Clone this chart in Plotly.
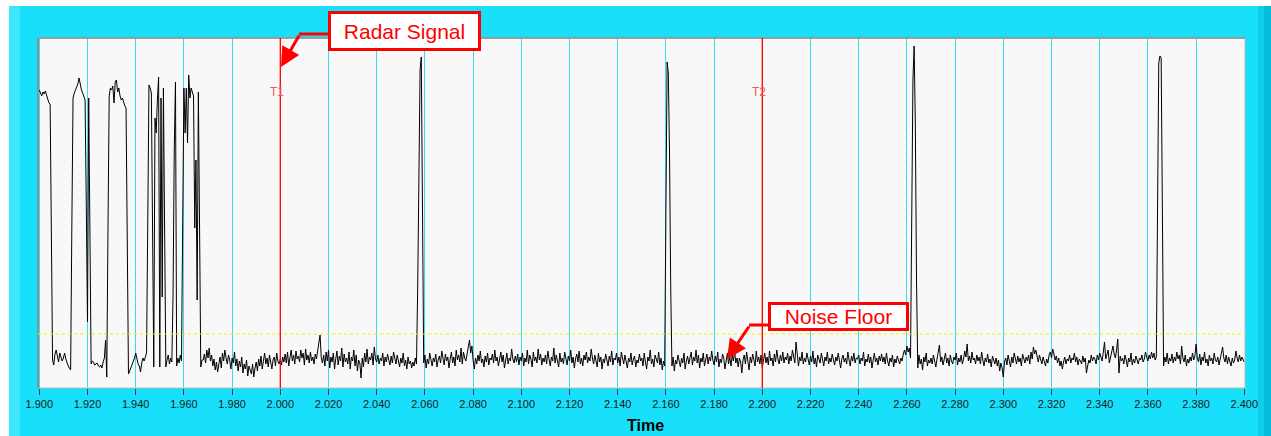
import numpy as np
import plotly.graph_objects as go

# ---------------- data (amplitude in arbitrary units, 0.5 ms sampling) ----------------
SAMPLE_DT = 0.0005

seg_burst_start = 1.900
seg_burst = [
    298, 295, 292, 296, 294, 297, 293, 290, 285, 284, 156,
    28, 23, 34, 38, 30, 26, 35, 31, 27, 30, 35, 29, 25, 22, 20, 18,
    161,
    290, 295, 298, 300, 304, 310, 302, 298, 295, 292, 288,
    181, 66, 290, 123,
    24, 27, 26, 23, 24, 25, 22, 21, 23, 20, 26, 30, 48, 11,
    160,
    292, 300, 298, 302, 285, 306, 308, 296, 300, 292, 288, 290, 285, 282, 280,
    146,
    14, 17, 20, 23, 26, 30, 35, 28, 24, 22, 16, 25, 30, 27, 32, 35,
    165,
    303, 300, 295, 158, 21, 270, 255, 288, 311, 21, 290, 91, 300, 158, 21,
    28, 33, 24, 30, 26, 93, 238, 306, 22, 30, 25, 33, 27, 170, 300,
    255, 300, 245, 313, 290, 300, 296, 292, 160, 228, 88, 296, 160, 21, 28,
]

seg_a_start = 1.968
seg_a = [
    28, 34, 25, 38, 30, 40, 27, 33, 22, 29, 18, 26, 16, 24, 31, 20, 35, 27, 38, 30,
    24, 33, 28, 19, 30, 25, 36, 22, 29, 17, 27, 21, 31, 15, 24, 19, 28, 12, 22, 18,
    14, 24, 11, 20, 26, 17, 29, 22, 32, 19, 27, 35, 24, 30, 21, 33, 26, 19, 28, 31,
    22, 35, 27, 24, 29, 23, 31, 26, 34, 25, 36, 22, 30, 38, 27, 33, 24, 37, 29, 32,
    26, 38, 30, 35, 23, 39, 28, 33, 25, 36, 27, 31, 24, 34, 29, 37, 44, 53, 30, 25,
    33, 22, 36, 27, 38, 20, 31, 26, 35, 19, 29, 37, 23, 32, 27, 40, 21, 34, 26, 30,
    24, 36, 19, 31, 27, 38, 22, 33, 17, 28, 25, 10, 30, 21, 35, 26, 39, 24, 31, 28,
    35, 23, 41, 29, 26, 33, 24, 30, 27, 35, 22, 31, 26, 34, 28, 23, 32, 25, 36, 29,
    24, 33, 27, 21, 30, 25, 35, 22, 28, 19, 31, 24, 27, 20, 26, 22, 30, 24, 98, 236,
    318, 331, 180, 25, 33, 20, 29, 24, 35, 27, 22, 30, 26, 34, 21, 28, 32, 25, 37, 30,
    23, 34, 27, 31, 20, 29, 36, 25, 31, 22, 38, 28, 33, 26, 40, 24, 36, 30, 27, 34,
    44, 48, 35, 42, 28, 19, 30, 24, 33, 27, 37, 25, 29, 21, 32, 26, 35, 23, 30, 28,
    34, 25, 38, 27, 31, 22, 29, 36, 26, 33, 20, 28, 35, 24, 30, 27, 39, 29, 25, 32,
    26, 34, 23, 31,
]

seg_b_start = 2.100
seg_b = [
    27, 35, 22, 30, 26, 38, 24, 33, 29, 21, 36, 27, 31, 25, 39, 28, 34, 23, 30, 26,
    33, 24, 37, 29, 22, 31, 27, 40, 25, 33, 28, 21, 35, 26, 30, 24, 36, 29, 23, 32,
    27, 38, 25, 31, 20, 29, 34, 26, 37, 24, 30, 22, 33, 28, 36, 25, 31, 27, 39, 30,
    24, 33, 28, 21, 35, 26, 31, 19, 29, 25, 34, 27, 22, 32, 26, 37, 23, 30, 28, 35,
    25, 31, 22, 36, 28, 24, 33, 27, 20, 30, 26, 35, 23, 29, 32, 21, 28, 25, 34, 27,
    30, 22, 35, 26, 19, 31, 27, 38, 24, 29, 21, 33, 28, 25, 36, 23, 30, 18, 27, 22,
    176, 326, 315, 236, 100, 22, 31, 17, 28, 24, 33, 26, 21, 30, 25, 35, 19, 27, 32, 24,
    29, 36, 23, 31, 27, 38, 25, 33, 20, 30, 26, 35, 22, 29, 34, 24, 31, 27, 37, 28,
    23, 32, 26, 36, 21, 29, 25, 34, 30, 19, 28, 35, 24, 31, 22, 33, 27, 38, 25, 30,
    21, 30, 26, 15, 28, 33, 24, 36, 27, 18, 31, 25, 34, 29, 22, 37, 26, 31, 24, 33,
    20, 28, 35, 25, 31, 23, 37, 27, 30, 22, 34, 26, 38, 29, 24, 33, 27, 36, 25, 31,
    28, 35, 24, 32, 27, 38, 30, 25, 46, 33, 22, 31, 27, 36, 24, 30, 26, 35, 29, 23,
    32, 26, 37, 24, 30, 21, 33, 28, 25, 35, 29, 22, 31, 27, 36, 24, 30, 26, 34, 28,
    23, 31, 27, 35, 25, 20, 29, 33, 26, 30, 24, 36, 28, 22, 32, 27, 35, 25, 30, 29,
    33, 24, 30, 27, 36, 22, 29, 26, 34, 25, 31, 20, 28, 35, 26, 30, 23, 32, 27, 34,
]

seg_c_start = 2.250
seg_c = [
    26, 31, 24, 35, 27, 22, 30, 26, 33, 21, 29, 25, 32, 28, 24, 30, 27, 34, 38, 33,
    42, 36, 40, 30, 148, 308, 342, 263, 106, 20, 33, 24, 29, 18, 31, 26, 35, 22, 28, 25,
    30, 24, 33, 27, 21, 29, 36, 43, 26, 31, 23, 28, 35, 25, 30, 22, 33, 27, 24, 31,
    28, 35, 23, 30, 26, 33, 24, 29, 37, 31, 44, 27, 32, 25, 36, 28, 30, 24, 33, 27,
    31, 24, 36, 28, 22, 30, 26, 34, 25, 29, 21, 32, 27, 24, 30, 22, 28, 17, 25, 20,
    11, 26, 30, 23, 33, 27, 21, 31, 25, 35, 28, 24, 32, 26, 30, 22, 34, 28, 25, 31,
    27, 33, 24, 36, 29, 41, 34, 38, 30, 26, 33, 28, 24, 31, 27, 22, 29, 25, 33, 36,
    30, 39, 34, 28, 32, 25, 30, 22, 27, 19, 26, 31, 24, 29, 27, 33, 25, 30, 28, 35,
    26, 31, 23, 29, 27, 24, 32, 26, 30, 15, 22, 28, 25, 33, 27, 31, 29, 24, 33, 28,
    35, 30, 27, 36, 46, 29, 33, 38, 25, 31, 36, 42, 34, 30, 38, 49, 15, 32, 27, 30,
    24, 33, 28, 21, 30, 26, 35, 23, 29, 25, 32, 27, 24, 30, 28, 33, 26, 29, 36, 31,
    27, 33, 29, 36, 30, 35, 28, 31, 178, 325, 332, 330, 180, 22, 31, 26, 35, 24, 30, 27,
    34, 25, 31, 27, 36, 29, 33, 24, 42, 30, 26, 33, 22, 29, 25, 31, 27, 35, 28, 32,
    44, 30, 26, 34, 23, 31, 27, 36, 25, 29, 22, 33, 27, 30, 24, 35, 28, 26, 31, 23,
    29, 34, 41, 30, 26, 33, 24, 31, 27, 22, 30, 25, 28, 37, 30, 26, 33, 27, 31, 29,
    26,
]

noise_floor_level = 54
cursor_times = [2.000, 2.200]
cursor_labels = ["T1", "T2"]
x_ticks = [round(1.900 + 0.020 * i, 3) for i in range(26)]
x_ticktext = [f"{v:.3f}" for v in x_ticks]

# ---------------- build series ----------------
t_all, v_all = [], []
for start, vals in [(seg_burst_start, seg_burst), (seg_a_start, seg_a),
                    (seg_b_start, seg_b), (seg_c_start, seg_c)]:
    t_all.extend(np.round(start + SAMPLE_DT * np.arange(len(vals)), 5).tolist())
    v_all.extend(vals)

# ---------------- layout helpers ----------------
W, H = 1271, 436
ML, MR, MT, MB = 38, 26, 38, 48
PW = W - ML - MR
PH = H - MT - MB


def pxx(x):
    return (x - ML) / PW


def pxy(y):
    return (H - MB - y) / PH


CYAN = "#18E0FA"
RED = "#FF0000"
FONT = "Arial, Liberation Sans, sans-serif"

fig = go.Figure()
fig.add_trace(go.Scatter(x=t_all, y=v_all, mode="lines",
                         line=dict(color="#000000", width=1), hoverinfo="skip"))

shapes = []
# frame decorations
shapes.append(dict(type="rect", xref="paper", yref="paper", x0=pxx(-5), x1=pxx(W + 5),
                   y0=pxy(6), y1=pxy(-5), fillcolor="#FFFFFF", line_width=0, layer="below"))
shapes.append(dict(type="rect", xref="paper", yref="paper", x0=pxx(-5), x1=pxx(9),
                   y0=pxy(H + 5), y1=pxy(-5), fillcolor="#FFFFFF", line_width=0, layer="below"))
shapes.append(dict(type="rect", xref="paper", yref="paper", x0=pxx(9), x1=pxx(20),
                   y0=pxy(H + 5), y1=pxy(6), fillcolor="#3DE6FB", line_width=0, layer="below"))
shapes.append(dict(type="rect", xref="paper", yref="paper", x0=pxx(1258), x1=pxx(1264),
                   y0=pxy(H + 5), y1=pxy(6), fillcolor="#0FCDEB", line_width=0, layer="below"))
shapes.append(dict(type="rect", xref="paper", yref="paper", x0=pxx(1264), x1=pxx(W + 5),
                   y0=pxy(H + 5), y1=pxy(6), fillcolor="#06BCDD", line_width=0, layer="below"))
# plot border
shapes.append(dict(type="rect", xref="paper", yref="paper", x0=0, x1=1, y0=0, y1=1,
                   line=dict(color="#B8B8B8", width=1), layer="above"))
shapes.append(dict(type="line", xref="paper", yref="paper", x0=0, x1=0, y0=0, y1=1,
                   line=dict(color="#808080", width=1.5), layer="above"))
shapes.append(dict(type="line", xref="paper", yref="paper", x0=0, x1=1, y0=1, y1=1,
                   line=dict(color="#909090", width=1.5), layer="above"))
# noise floor threshold
shapes.append(dict(type="line", xref="paper", yref="y", x0=0, x1=1,
                   y0=noise_floor_level, y1=noise_floor_level,
                   line=dict(color="#EEEE00", width=1, dash="3px,3px"), layer="above"))
# cursors
for ct in cursor_times:
    shapes.append(dict(type="line", xref="x", yref="paper", x0=ct, x1=ct, y0=0, y1=1,
                       line=dict(color=RED, width=1.3), layer="above"))
# annotation arrow elbows
shapes.append(dict(type="line", xref="paper", yref="paper", x0=pxx(299), x1=pxx(330),
                   y0=pxy(34), y1=pxy(34), line=dict(color=RED, width=3), layer="above"))
shapes.append(dict(type="line", xref="paper", yref="paper", x0=pxx(749), x1=pxx(770),
                   y0=pxy(325), y1=pxy(325), line=dict(color=RED, width=3), layer="above"))

annotations = []
for ct, lab in zip(cursor_times, cursor_labels):
    annotations.append(dict(x=ct, y=296, xref="x", yref="y", text=lab, showarrow=False,
                            xanchor="center", yanchor="middle", xshift=-3,
                            font=dict(family=FONT, size=12, color="#F05A5A")))

annotations.append(dict(x=pxx(404.5), y=pxy(31), xref="paper", yref="paper",
                        xanchor="center", yanchor="middle",
                        text="Radar Signal", showarrow=False, width=145, height=32,
                        bgcolor="#FFFFFF", bordercolor=RED, borderwidth=3, borderpad=1,
                        font=dict(family=FONT, size=21, color=RED)))
annotations.append(dict(x=pxx(838.5), y=pxy(316.5), xref="paper", yref="paper",
                        xanchor="center", yanchor="middle",
                        text="Noise Floor", showarrow=False, width=133, height=21,
                        bgcolor="#FFFFFF", bordercolor=RED, borderwidth=3, borderpad=1,
                        font=dict(family=FONT, size=21, color=RED)))
# arrow heads
annotations.append(dict(x=pxx(281), y=pxy(67), xref="paper", yref="paper", text="",
                        showarrow=True, ax=19, ay=-33, arrowhead=2, arrowsize=1.3,
                        arrowwidth=3, arrowcolor=RED, standoff=0, startstandoff=0))
annotations.append(dict(x=pxx(727), y=pxy(359), xref="paper", yref="paper", text="",
                        showarrow=True, ax=23, ay=-34, arrowhead=2, arrowsize=1.3,
                        arrowwidth=3, arrowcolor=RED, standoff=0, startstandoff=0))
# axis title
annotations.append(dict(x=pxx(645), y=pxy(425), xref="paper", yref="paper",
                        xanchor="center", yanchor="middle",
                        text="<b>Time</b>", showarrow=False,
                        font=dict(family=FONT, size=16, color="#000000")))

fig.update_layout(
    width=W, height=H,
    margin=dict(l=ML, r=MR, t=MT, b=MB, pad=0),
    paper_bgcolor=CYAN,
    plot_bgcolor="#F8F8F8",
    showlegend=False,
    shapes=shapes,
    annotations=annotations,
    xaxis=dict(range=[1.89946, 2.40029], tickvals=x_ticks, ticktext=x_ticktext,
               showgrid=True, gridcolor="#38DCF5", gridwidth=1, zeroline=False,
               ticks="outside", ticklen=6, tickcolor="#404040", tickwidth=1,
               tickfont=dict(family=FONT, size=11, color="#1A1A1A"),
               showline=False, fixedrange=True),
    yaxis=dict(range=[0, 350], showticklabels=False, showgrid=False, zeroline=False,
               ticks="", showline=False, fixedrange=True),
)

fig.write_html("out.html", config={"displayModeBar": False},
               post_script="document.body.style.margin='0';"
                           "document.body.style.overflow='hidden';")
